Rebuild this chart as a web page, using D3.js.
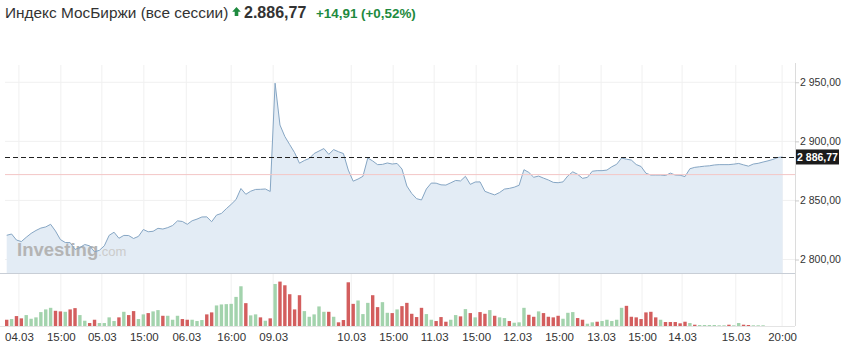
<!DOCTYPE html>
<html lang="ru">
<head>
<meta charset="utf-8">
<title>Индекс МосБиржи</title>
<script src="https://d3js.org/d3.v7.min.js"></script>
<style>
body { margin: 0; background: #fff; }
svg { display: block; font-family: "Liberation Sans", Arial, sans-serif; }
</style>
</head>
<body>
<div id="chart"></div>
<script>
// hourly closes, 04.03 - 15.03
var prices = [
  2820.5, 2821.6, 2816.5, 2815.2, 2818.8, 2822.1, 2824.6, 2826.6, 2827.6, 2829.8,
  2824.1, 2816.9, 2814.4, 2814.3, 2808.5, 2810.2, 2812.7, 2811.6, 2806.5, 2807.8,
  2811.6, 2820.5, 2823.1, 2818.0, 2820.4, 2820.3, 2817.8, 2819.6, 2825.4, 2823.5,
  2823.9, 2826.4, 2825.8, 2827.0, 2828.8, 2832.7, 2832.2, 2829.8, 2832.8, 2834.2,
  2836.0, 2836.1, 2832.0, 2837.6, 2839.0, 2843.0, 2846.7, 2850.8, 2860.1, 2855.2,
  2857.8, 2859.3, 2859.4, 2859.7, 2857.6, 2949.2, 2913.8, 2904.1, 2897.2, 2890.4,
  2881.5, 2883.8, 2885.5, 2889.7, 2891.8, 2893.9, 2889.0, 2893.0, 2891.2, 2889.7,
  2875.7, 2866.3, 2868.1, 2870.4, 2885.9, 2883.4, 2880.3, 2880.5, 2881.7, 2880.8,
  2881.3, 2876.6, 2862.2, 2855.9, 2851.5, 2850.4, 2859.7, 2864.7, 2864.6, 2863.2,
  2863.0, 2864.9, 2866.9, 2866.5, 2870.4, 2863.6, 2865.6, 2865.7, 2857.7, 2856.1,
  2854.7, 2856.7, 2859.6, 2860.2, 2861.2, 2862.8, 2876.0, 2873.7, 2869.6, 2870.6,
  2868.9, 2867.3, 2865.3, 2865.0, 2865.7, 2870.8, 2874.2, 2872.1, 2868.7, 2869.5,
  2874.7, 2875.2, 2875.2, 2875.7, 2878.5, 2880.6, 2885.9, 2884.9, 2884.2, 2880.4,
  2878.7, 2873.0, 2871.5, 2871.5, 2871.5, 2871.1, 2873.1, 2871.5, 2871.3, 2870.2,
  2876.8, 2878.0, 2878.5, 2879.0, 2879.3, 2880.0, 2880.3, 2880.3, 2880.3, 2880.7,
  2881.3, 2880.1, 2879.0, 2880.8, 2881.4, 2882.5, 2883.5, 2884.7, 2886.3, 2886.77
];
var volumes = [
  6.3, 7, 10, 7.7, 11, 7.3, 8.7, 14, 16.7, 18.3,
  15.3, 14.7, 14.3, 16.7, 18, 11, 5.3, 3, 6.3, 3,
  3, 8.7, 5, 8.7, 14.3, 11, 15, 7, 11.7, 13,
  14.7, 16, 10.3, 10.3, 6.3, 10.3, 7, 6.3, 6.3, 5,
  6, 11.7, 13.7, 20.7, 21.7, 22, 22.3, 29.3, 40, 23,
  10.7, 11.7, 8.7, 5.3, 7.7, 42.3, 44.7, 41, 32, 16.7,
  31, 15, 9.3, 11.7, 19.7, 14.3, 14.3, 9.3, 3.7, 6,
  44, 22.3, 25.7, 12, 23.3, 31, 19, 24, 13.3, 13,
  16.7, 20, 23.3, 12.3, 9, 18.3, 12, 6.3, 5, 9,
  4.3, 6.3, 11, 9.7, 17, 13, 8.7, 14, 12.3, 16,
  10.3, 8.7, 8, 5, 3.3, 3.7, 18.3, 11.3, 9.3, 14.7,
  13, 9.3, 8.7, 10.3, 7.3, 13.3, 14, 8, 6.3, 2.3,
  3.7, 4.3, 5, 6.3, 5, 6.3, 18.3, 20.3, 9.3, 8.7,
  7, 13.7, 14.3, 8.7, 6.3, 4, 4, 4, 2.7, 4.3,
  3, 1.3, 1, 1, 1, 1, 0.7, 0.7, 1.3, 0.7,
  3, 1.3, 1, 0.7, 0.7, 0.7, 0, 0, 0, 0
];
// g = up candle, r = down candle
var volDir = ("rgrrgggggg" + "rrgrrggrrg" + "gggrgrrggr" + "ggrgggrrgg" +
              "grrggggggr" + "ggrgrgrrrr" + "rgggggrgrr" + "rrgggrrggr" +
              "grrrrrggrr" + "rggrgrgrrg" + "rggrgggrrg" + "rrrrgggrrg" +
              "grgggggrrr" + "rrrrgrrrrr" + "grggggggrg" + "grrggggggg").split("");

var tickIdx = [2.5, 11.1, 19.5, 28.1, 36.8, 46.0, 54.6, 70.6, 79.2, 87.6,
               96.2, 104.6, 113.2, 121.8, 130.2, 138.4, 149.4, 158.9];
var tickLabels = ["04.03", "15:00", "05.03", "15:00", "06.03", "16:00", "09.03",
                  "10.03", "15:00", "11.03", "15:00", "12.03", "15:00", "13.03",
                  "15:00", "14.03", "15.03", "20:00"];
var priceTicks = [2800, 2850, 2900, 2950];
var lastPrice = 2886.77;
var prevClose = 2871.86;

var width = 844, height = 343;
var svg = d3.select("#chart").append("svg")
  .attr("width", width).attr("height", height);

var ru = d3.formatLocale({decimal: ",", thousands: " ", grouping: [3], currency: ["", ""]});
var fmt = ru.format(",.2f");

var x = d3.scaleLinear().domain([0, prices.length - 1]).range([6.7, 782.6]);
var y = d3.scaleLinear().domain([2788.6, 2964.6]).range([273, 65]);
var v = d3.scaleLinear().domain([0, 45]).range([326, 281.3]);

var plotL = 5, plotR = 795;

// grid
svg.append("g").selectAll("line")
  .data(tickIdx).enter().append("line")
  .attr("x1", d => x(d)).attr("x2", d => x(d))
  .attr("y1", 65).attr("y2", 326)
  .attr("stroke", "#f0f0f0");
svg.append("g").selectAll("line")
  .data(priceTicks).enter().append("line")
  .attr("x1", plotL).attr("x2", plotR)
  .attr("y1", d => y(d)).attr("y2", d => y(d))
  .attr("stroke", "#f0f0f0");

// price area
var area = d3.area()
  .x((d, i) => x(i))
  .y0(273)
  .y1(d => y(d));
var line = d3.line()
  .x((d, i) => x(i))
  .y(d => y(d));

svg.append("path").datum(prices)
  .attr("d", area)
  .attr("fill", "#e3ecf5");

// watermark
var wm = svg.append("text").attr("x", 17).attr("y", 256);
wm.append("tspan").text("Investing")
  .attr("font-weight", "bold").attr("font-size", 18.5).attr("fill", "#b4b4b4");
wm.append("tspan").text(".com")
  .attr("font-size", 13).attr("fill", "#cbcbcb");

svg.append("path").datum(prices)
  .attr("d", line)
  .attr("fill", "none")
  .attr("stroke", "#86a6c4")
  .attr("stroke-width", 1);

// previous close and last price lines
svg.append("line")
  .attr("x1", plotL).attr("x2", plotR)
  .attr("y1", y(prevClose)).attr("y2", y(prevClose))
  .attr("stroke", "#f3c6c6").attr("stroke-width", 1);
svg.append("line")
  .attr("x1", plotL).attr("x2", plotR)
  .attr("y1", Math.round(y(lastPrice)) + 0.5).attr("y2", Math.round(y(lastPrice)) + 0.5)
  .attr("stroke", "#222").attr("stroke-dasharray", "5,3");

// frame
svg.append("line").attr("x1", 0).attr("x2", plotR)
  .attr("y1", 273.5).attr("y2", 273.5).attr("stroke", "#c8ced6");
svg.append("line").attr("x1", 0).attr("x2", plotR)
  .attr("y1", 326.5).attr("y2", 326.5).attr("stroke", "#e4e4e4");
svg.append("line").attr("x1", plotR + 0.5).attr("x2", plotR + 0.5)
  .attr("y1", 63).attr("y2", 326).attr("stroke", "#dcdcdc");

// volume bars
svg.append("g").selectAll("rect")
  .data(volumes).enter().append("rect")
  .attr("x", (d, i) => x(i) - 1.7)
  .attr("width", 3.4)
  .attr("y", d => v(d))
  .attr("height", d => 326 - v(d))
  .attr("fill", (d, i) => volDir[i] == "g" ? "#a3d3ad" : "#d35e5e");

// right axis
var yAxis = d3.axisRight(y).tickValues(priceTicks).tickFormat(fmt)
  .tickSize(4).tickPadding(1);
var ya = svg.append("g").attr("transform", "translate(" + plotR + ",0)").call(yAxis);
ya.select(".domain").remove();
ya.selectAll("line").attr("stroke", "#ccc");
ya.selectAll("text").attr("font-size", 10.5).attr("fill", "#333")
  .attr("font-family", "Liberation Sans, Arial, sans-serif");

// bottom axis
var xAxis = d3.axisBottom(x).tickValues(tickIdx)
  .tickFormat((d, i) => tickLabels[i]).tickSize(0).tickPadding(6);
var xa = svg.append("g").attr("transform", "translate(0,327)").call(xAxis);
xa.select(".domain").remove();
xa.selectAll("text").attr("font-size", 11.5).attr("fill", "#333")
  .attr("font-family", "Liberation Sans, Arial, sans-serif");

// last price tag
var ly = y(lastPrice);
svg.append("rect")
  .attr("x", plotR + 1).attr("y", ly - 7.5)
  .attr("width", 43).attr("height", 15)
  .attr("fill", "#1b1b1b");
svg.append("text")
  .attr("x", plotR + 22.5).attr("y", ly + 4)
  .attr("text-anchor", "middle")
  .attr("font-size", 10.5).attr("font-weight", "bold").attr("fill", "#fff")
  .text(fmt(lastPrice));

// header
svg.append("text").attr("x", 5).attr("y", 17.5)
  .attr("font-size", 15.4).attr("fill", "#333")
  .text("Индекс МосБиржи (все сессии)");
svg.append("path")
  .attr("d", "M236.5,7 L240.8,11.8 L238.3,11.8 L238.3,16 L234.7,16 L234.7,11.8 L232.2,11.8 Z")
  .attr("fill", "#1e8a3e");
svg.append("text").attr("x", 244).attr("y", 17.5)
  .attr("font-size", 16).attr("font-weight", "bold").attr("fill", "#333")
  .text(d3.format(",.2f")(lastPrice).replace(".", "#").replace(/,/g, ".").replace("#", ","));
svg.append("text").attr("x", 316).attr("y", 17.5)
  .attr("font-size", 13.4).attr("font-weight", "bold").attr("fill", "#1e8a3e")
  .text("+14,91 (+0,52%)");
</script>
</body>
</html>
